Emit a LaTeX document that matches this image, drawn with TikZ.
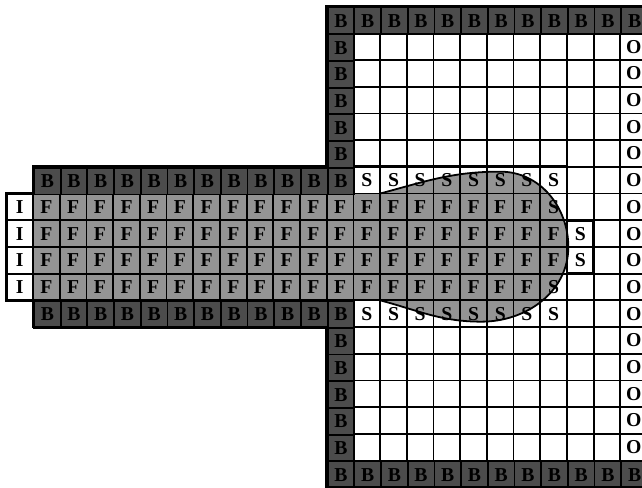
\documentclass[tikz,border=0pt]{standalone}
\usepackage{fontspec}
\setmainfont{Liberation Serif}

\tikzset{
  gridline/.style={line width=1.9pt},
  outline/.style={line width=3pt, line join=miter},
  letter/.style={inner sep=0pt, font=\fontsize{21}{21}\selectfont\bfseries},
  wallcell/.style={draw, line width=1.9pt, fill=black!70, minimum size=1cm,
    inner sep=0pt, anchor=north west, font=\fontsize{21}{21}\selectfont\bfseries},
}

\begin{document}
\begin{tikzpicture}[x=1cm,y=1cm]
\useasboundingbox (-0.24,-18.03) rectangle (23.81,0.25);

% Shaded fluid: the channel and the tongue that runs into the box
\fill[black!42] (1,-7) -- (14,-7)
  to[out=15,in=180] (18.5,-6.18) to[out=0,in=90] (21.05,-9)
  to[out=-90,in=0] (17.8,-11.8) to[out=180,in=-15] (14,-11)
  -- (1,-11) -- cycle;

% Cell grids
\draw[gridline] (12,-18) grid (24,0);
\draw[gridline] (1,-12) grid (12,-6);
\draw[gridline] (0,-11) grid (1,-7);

% Wall cells
\foreach \c in {12,...,23} {
  \node[wallcell] (wt\c) at (\c,0) {B};
  \node[wallcell] (wb\c) at (\c,-17) {B};
}
\foreach \r in {1,...,6,11,12,...,16}
  \node[wallcell] (wl\r) at (12,-\r) {B};
\foreach \c in {1,...,11} {
  \node[wallcell] (wu\c) at (\c,-6) {B};
  \node[wallcell] (wd\c) at (\c,-11) {B};
}

% Inflow, fluid, surface and outflow labels
\foreach \r in {7,...,10}
  \node[letter] (i\r) at (0.5,-\r-0.5) {I};
\foreach \r/\last in {7/19,8/20,9/20,10/19} {
  \foreach \c in {1,...,\last}
    \node[letter] (f\c-\r) at (\c+0.5,-\r-0.5) {F};
}
\foreach \c in {13,...,20} {
  \node[letter] (su\c) at (\c+0.5,-6.5) {S};
  \node[letter] (sd\c) at (\c+0.5,-11.5) {S};
}
\node[letter] (s20-7) at (20.5,-7.5) {S};
\node[letter] (s20-10) at (20.5,-10.5) {S};
\node[letter] (s21-8) at (21.5,-8.5) {S};
\node[letter] (s21-9) at (21.5,-9.5) {S};
\foreach \r in {1,...,16}
  \node[letter] (o\r) at (23.5,-\r-0.5) {O};

% Free surface of the tongue
\draw[line width=1.9pt] (14,-7)
  to[out=15,in=180] (18.5,-6.18) to[out=0,in=90] (21.05,-9)
  to[out=-90,in=0] (17.8,-11.8) to[out=180,in=-15] (14,-11);

% Outer boundary and surface cell band
\draw[outline] (12,0) -- (24,0) -- (24,-18) -- (12,-18) -- (12,-12)
  -- (1,-12) -- (1,-11) -- (0,-11) -- (0,-7) -- (1,-7) -- (1,-6)
  -- (12,-6) -- cycle;
\draw[outline] (13,-6) -- (21,-6) -- (21,-8) -- (22,-8) -- (22,-10)
  -- (21,-10) -- (21,-12) -- (13,-12);

\end{tikzpicture}
\end{document}
